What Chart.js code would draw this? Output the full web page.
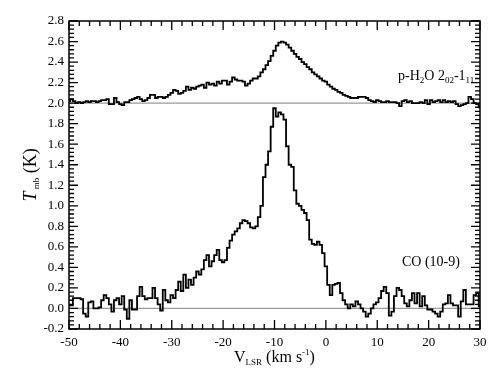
<!DOCTYPE html>
<html><head><meta charset="utf-8">
<script src="https://cdn.jsdelivr.net/npm/chart.js@4"></script>
<style>html,body{margin:0;padding:0;background:#fff;}canvas{display:block;}</style>
</head><body>
<canvas id="c" width="501" height="387"></canvas>
<script>
// ---- data ----
const channelStart = -50;   // km/s, first channel
const channelWidth = 0.5;   // km/s
const coValues = [
 0.03,0.03,0.10,0.10,0.10,0.09,-0.05,-0.08,0.06,0.07,
 0.00,0.00,0.01,0.08,0.13,0.10,0.04,-0.03,0.08,0.10,
 0.04,0.12,-0.01,-0.10,0.08,-0.01,-0.01,0.12,0.21,0.12,
 0.09,0.10,0.10,0.20,0.10,0.04,-0.02,0.18,0.08,0.06,
 0.13,0.10,0.18,0.26,0.17,0.33,0.20,0.28,0.23,0.30,
 0.36,0.33,0.38,0.47,0.52,0.41,0.46,0.52,0.57,0.47,
 0.45,0.47,0.59,0.66,0.72,0.75,0.78,0.83,0.86,0.85,
 0.83,0.79,0.78,0.80,0.89,1.00,1.28,1.40,1.53,1.77,
 1.95,1.87,1.91,1.89,1.84,1.58,1.40,1.38,1.15,1.02,
 1.00,0.96,0.93,0.86,0.67,0.63,0.62,0.65,0.62,0.54,
 0.41,0.23,0.13,0.23,0.24,0.25,0.15,0.08,0.04,0.00,
 0.04,0.02,0.07,0.04,0.00,-0.03,-0.08,-0.05,0.00,0.04,
 0.06,0.10,0.17,0.21,0.15,-0.07,-0.03,0.12,0.20,0.18,
 0.12,0.05,0.02,0.08,0.15,0.05,0.15,0.02,0.12,0.03,
 -0.01,-0.01,-0.03,-0.05,-0.08,-0.03,0.04,0.05,0.13,0.05,
 0.03,0.03,-0.08,0.07,0.18,0.04,0.04,0.04,0.13,0.15,
 0.02
];
const h2oValues = [
 0.02,0.04,0.02,0.00,0.01,0.00,0.01,0.02,0.01,0.02,
 0.02,0.01,0.02,0.03,0.03,0.04,-0.01,-0.01,0.05,0.01,
 -0.01,-0.02,0.01,0.01,0.03,0.04,0.05,0.06,0.04,0.02,
 0.03,0.05,0.08,0.08,0.05,0.06,0.06,0.05,0.06,0.08,
 0.10,0.13,0.12,0.09,0.10,0.12,0.16,0.13,0.15,0.14,
 0.16,0.17,0.18,0.15,0.20,0.18,0.19,0.17,0.21,0.19,
 0.22,0.22,0.18,0.21,0.25,0.23,0.22,0.22,0.21,0.17,
 0.19,0.22,0.24,0.24,0.26,0.30,0.33,0.37,0.41,0.46,
 0.51,0.56,0.59,0.60,0.59,0.57,0.54,0.51,0.48,0.45,
 0.43,0.40,0.38,0.35,0.33,0.30,0.28,0.26,0.24,0.22,
 0.21,0.18,0.16,0.14,0.13,0.11,0.10,0.08,0.07,0.06,
 0.05,0.05,0.05,0.06,0.06,0.06,0.05,0.03,0.02,0.01,
 0.03,0.02,0.01,0.01,0.02,0.01,0.01,0.01,0.00,-0.03,
 0.02,0.03,0.01,0.02,0.00,0.00,0.00,0.01,0.00,0.03,
 -0.01,0.03,0.01,0.02,0.03,0.01,0.03,0.01,0.02,0.01,
 0.02,-0.01,-0.03,-0.02,-0.01,0.00,0.06,0.04,0.00,-0.01,
 -0.04
];
const h2oOffset = 2.0;           // p-H2O spectrum shifted up by 2 K
const baselineLevels = [0.0, 2.0];
const xTickValues = [-50,-40,-30,-20,-10,0,10,20,30];
const yTickValues = [-0.2,0.0,0.2,0.4,0.6,0.8,1.0,1.2,1.4,1.6,1.8,2.0,2.2,2.4,2.6,2.8];
const xMinorStep = 2;
const yMinorStep = 0.04;
const labelCO = 'CO (10-9)';

// ---- build ----
const coPoints = coValues.map((t,i)=>({x: channelStart + i*channelWidth, y: t}));
const h2oPoints = h2oValues.map((t,i)=>({x: channelStart + i*channelWidth, y: t + h2oOffset}));
const SERIF = '"Liberation Serif", "Times New Roman", serif';

function richWidth(ctx, parts){
  let w = 0;
  parts.forEach(p=>{ ctx.font = (p.it?'italic ':'') + p.s + 'px ' + SERIF; w += ctx.measureText(p.t).width; });
  return w;
}
function drawRich(ctx, parts, x, y, align){
  let w = richWidth(ctx, parts);
  let cx = align==='center' ? x - w/2 : (align==='right' ? x - w : x);
  ctx.textAlign = 'left'; ctx.textBaseline = 'alphabetic';
  parts.forEach(p=>{
    ctx.font = (p.it?'italic ':'') + p.s + 'px ' + SERIF;
    ctx.fillText(p.t, cx, y + (p.dy||0));
    cx += ctx.measureText(p.t).width;
  });
}

const decor = {
  id: 'decor',
  beforeDatasetsDraw(chart){
    const {ctx, chartArea:a, scales:{x, y}} = chart;
    ctx.save();
    ctx.strokeStyle = '#9a9a9a'; ctx.lineWidth = 1.2;
    baselineLevels.forEach(b=>{
      const py = y.getPixelForValue(b);
      ctx.beginPath(); ctx.moveTo(a.left, py); ctx.lineTo(a.right, py); ctx.stroke();
    });
    ctx.restore();
  },
  afterDatasetsDraw(chart){
    const {ctx, chartArea:a, scales:{x, y}} = chart;
    ctx.save();
    ctx.strokeStyle = '#000'; ctx.lineWidth = 1.3;
    // ticks (inward, all four sides)
    ctx.beginPath();
    const nx = Math.round((x.max - x.min)/xMinorStep);
    for(let i=0;i<=nx;i++){
      const v = x.min + i*xMinorStep;
      const px = x.getPixelForValue(v);
      const len = (Math.abs(v % 10) < 1e-6) ? 9 : 5;
      ctx.moveTo(px, a.bottom); ctx.lineTo(px, a.bottom - len);
      ctx.moveTo(px, a.top); ctx.lineTo(px, a.top + len);
    }
    const ny = Math.round((y.max - y.min)/yMinorStep);
    for(let i=0;i<=ny;i++){
      const v = y.min + i*yMinorStep;
      const py = y.getPixelForValue(v);
      const len = (i % 5 === 0) ? 9 : 5;
      ctx.moveTo(a.left, py); ctx.lineTo(a.left + len, py);
      ctx.moveTo(a.right, py); ctx.lineTo(a.right - len, py);
    }
    ctx.stroke();
    // frame
    ctx.lineWidth = 1.5;
    ctx.strokeRect(a.left, a.top, a.right - a.left, a.bottom - a.top);

    ctx.fillStyle = '#000';
    // x title
    drawRich(ctx, [
      {t:'V', s:16}, {t:'LSR', s:9, dy:3}, {t:' (km s', s:16}, {t:'-1', s:9, dy:-7}, {t:')', s:16}
    ], (a.left + a.right)/2, 362, 'center');
    // y title (rotated)
    ctx.save();
    ctx.translate(36, (a.top + a.bottom)/2);
    ctx.rotate(-Math.PI/2);
    drawRich(ctx, [
      {t:'T', s:18, it:true}, {t:' mb', s:9, dy:3}, {t:' (K)', s:18}
    ], 0, 0, 'center');
    ctx.restore();
    // line labels
    drawRich(ctx, [
      {t:'p-H', s:14}, {t:'2', s:9, dy:3}, {t:'O 2', s:14}, {t:'02', s:9, dy:3},
      {t:'-1', s:14}, {t:'11', s:9, dy:3}
    ], 398, 80, 'left');
    drawRich(ctx, [{t:labelCO, s:14}], 402, 266, 'left');
    ctx.restore();
  }
};

new Chart(document.getElementById('c'), {
  type: 'line',
  data: {
    datasets: [
      {label:'p-H2O 2(02)-1(11)', data:h2oPoints, borderColor:'#000', borderWidth:1.8, stepped:'middle', pointRadius:0, fill:false},
      {label:'CO (10-9)', data:coPoints, borderColor:'#000', borderWidth:1.8, stepped:'middle', pointRadius:0, fill:false}
    ]
  },
  options: {
    responsive:false, animation:false, devicePixelRatio:1,
    layout:{padding:{top:21, right:21, left:0, bottom:0}},
    plugins:{legend:{display:false}, tooltip:{enabled:false}},
    scales:{
      x:{type:'linear', min:-50, max:30,
         afterFit(s){ s.height = 58; },
         afterBuildTicks(s){ s.ticks = xTickValues.map(v=>({value:v})); },
         grid:{display:false, drawTicks:false}, border:{display:false},
         ticks:{color:'#000', font:{family:SERIF, size:13}, padding:6, maxRotation:0, autoSkip:false,
                callback:v=>String(v)}},
      y:{type:'linear', min:-0.2, max:2.8,
         afterFit(s){ s.width = 69; },
         afterBuildTicks(s){ s.ticks = yTickValues.map(v=>({value:v})); },
         grid:{display:false, drawTicks:false}, border:{display:false},
         ticks:{color:'#000', font:{family:SERIF, size:13}, padding:5, autoSkip:false,
                callback:v=>Number(v).toFixed(1)}}
    }
  },
  plugins:[decor]
});
</script>
</body></html>
